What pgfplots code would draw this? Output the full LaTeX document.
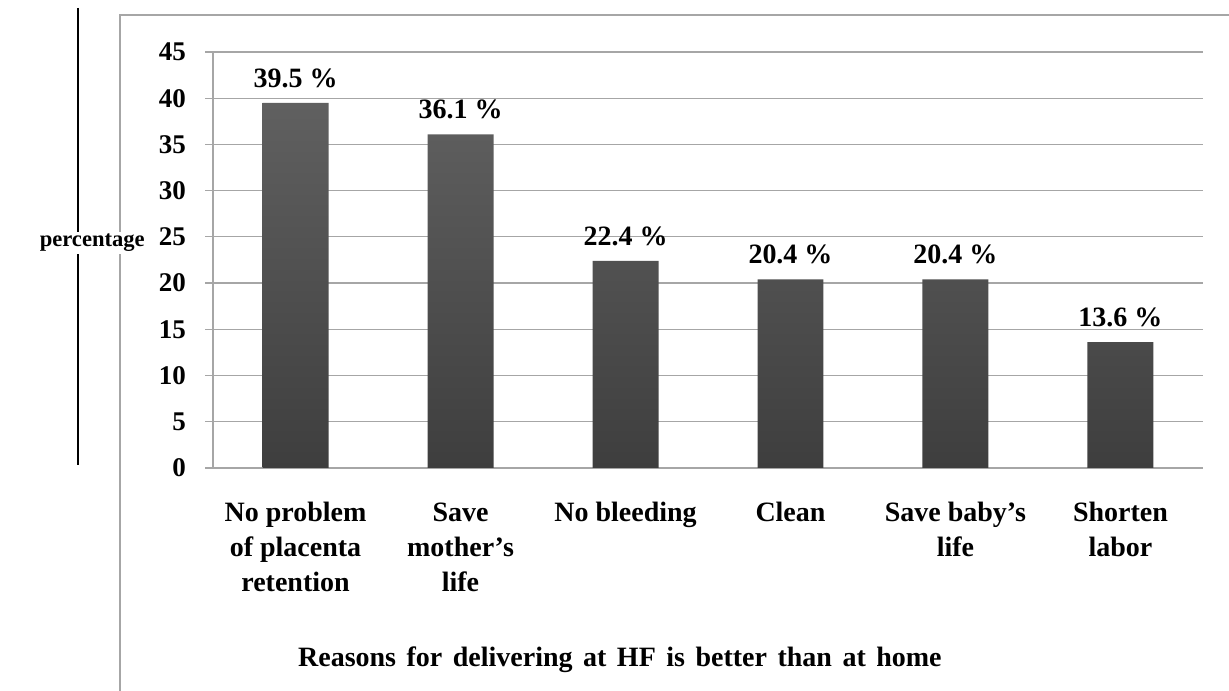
\documentclass[border=0pt]{standalone}
\usepackage{fontspec}
\setmainfont{Liberation Serif}
\newfontfamily\wide[WordSpace=1.5]{Liberation Serif}
\usepackage{pgfplots}
\pgfplotsset{compat=1.18}
\definecolor{gridc}{HTML}{A6A6A6}
\definecolor{bartop}{HTML}{606060}
\definecolor{barbot}{HTML}{3E3E3E}
\begin{document}
\begin{tikzpicture}
\begin{axis}[
  scale only axis, width=495pt, height=208pt,
  xmin=0.5, xmax=6.5, ymin=0, ymax=45,
  ytick={0,5,...,45},
  xtick={1,2,3,4,5,6},
  xticklabels={\strut No problem\\of placenta\\retention, \strut Save\\mother's\\life, \strut No bleeding, \strut Clean, \strut Save baby's\\life, \strut Shorten\\labor},
  major x tick style={draw=none},
  extra x ticks={0.5,1.5,2.5,3.5,4.5,5.5,6.5},
  extra x tick labels={},
  extra x tick style={grid=none, major tick length=5pt, tick align=outside, tick style={draw=gridc, line width=0.6pt}},
  axis x line*=bottom, axis y line*=left,
  axis line style={draw=gridc, line width=0.6pt},
  ymajorgrids, grid style={draw=gridc, line width=0.6pt},
  major y tick style={draw=gridc, line width=0.6pt},
  tick align=outside, major tick length=4pt,
  /pgf/number format/assume math mode=true,
  yticklabel style={font=\fontsize{13.5}{15}\selectfont\bfseries, xshift=-6pt},
  xticklabel style={font=\fontsize{14}{17.5}\selectfont\bfseries, align=center, anchor=north, yshift=-7pt},
  ybar, bar width=33pt,
  nodes near coords={\pgfmathprintnumber[fixed,fixed zerofill,precision=1]{\pgfplotspointmeta} \%},
  every node near coord/.append style={font=\fontsize{14}{15}\selectfont\bfseries, yshift=4pt, black},
  clip=false,
]
\addplot[draw=none, top color=bartop, bottom color=barbot] coordinates {(1,39.5) (2,36.1) (3,22.4) (4,20.4) (5,20.4) (6,13.6)};
\draw[gridc, line width=0.6pt] (rel axis cs:-0.0939,-0.6) -- (rel axis cs:-0.0939,1.089) -- (rel axis cs:1.1,1.089);
\draw[black, line width=0.6pt] (rel axis cs:-0.1364,1.1058) -- (rel axis cs:-0.1364,0.0072);
\node[font=\fontsize{14}{15}\selectfont\wide\bfseries] at (rel axis cs:0.411,-0.4615) {Reasons for delivering at HF is better than at home};
\node[font=\fontsize{11.3}{13}\selectfont\bfseries, fill=white, inner sep=1pt] at (rel axis cs:-0.122,0.541) {percentage};
\coordinate (bl) at (rel axis cs:-0.2152,-0.536);
\coordinate (tr) at (rel axis cs:1.0263,1.125);
\end{axis}
\pgfresetboundingbox
\useasboundingbox (bl) rectangle (tr);
\end{tikzpicture}
\end{document}
